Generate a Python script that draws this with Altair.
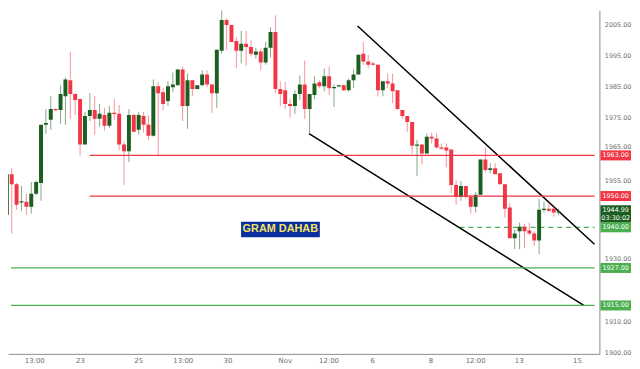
import altair as alt
import pandas as pd

# ---- candle data (4h candles) ----
opens = [1944.0, 1957.0, 1953.8, 1948.0, 1948.2, 1946.6, 1950.7, 1954.2, 1972.8, 1974.4,
         1977.8, 1977.5, 1981.9, 1987.0, 1982.6, 1981.0, 1966.5, 1975.6, 1977.5, 1974.7,
         1975.9, 1972.5, 1976.6, 1976.3, 1966.5, 1964.3, 1975.9, 1971.2, 1975.6, 1972.8,
         1969.3, 1985.1, 1983.2, 1980.4, 1984.8, 1985.4, 1990.5, 1978.8, 1987.0, 1984.2,
         1985.4, 1988.9, 1985.7, 1982.9, 1996.5, 2006.3, 2004.7, 1999.6, 1996.5, 1998.7,
         1997.7, 1995.2, 1996.2, 1992.7, 1997.4, 2002.5, 1984.2, 1983.8, 1979.4, 1978.8,
         1982.6, 1985.7, 1977.8, 1982.3, 1986.4, 1985.1, 1988.3, 1984.5, 1985.1, 1985.4,
         1983.8, 1987.0, 1988.9, 1995.5, 1993.0, 1992.4, 1992.0, 1983.8, 1986.7, 1986.0,
         1983.8, 1977.5, 1975.6, 1973.7, 1966.1, 1966.5, 1963.6, 1969.0, 1968.4, 1965.5,
         1965.5, 1964.9, 1953.5, 1949.7, 1953.2, 1949.7, 1946.6, 1950.4, 1961.7, 1958.3,
         1958.9, 1957.3, 1953.8, 1946.3, 1936.5, 1938.7, 1940.2, 1939.0, 1938.0, 1935.8,
         1945.6, 1945.9, 1945.9, 1944.7]
highs = [1962.4, 1958.9, 1954.2, 1953.2, 1950.7, 1954.5, 1955.0, 1972.8, 1977.8, 1981.9,
         1978.0, 1985.4, 1987.9, 1996.0, 1982.9, 1981.0, 1976.9, 1982.9, 1981.9, 1979.4,
         1978.2, 1978.8, 1981.0, 1979.1, 1967.4, 1977.8, 1976.3, 1976.9, 1976.9, 1975.9,
         1987.3, 1986.4, 1984.5, 1986.7, 1989.5, 1990.5, 1991.4, 1989.2, 1987.0, 1985.4,
         1990.2, 1990.2, 1985.7, 1996.8, 2009.4, 2006.9, 2004.7, 2000.9, 2002.8, 2002.8,
         1999.9, 1997.4, 1997.1, 1999.3, 2004.0, 2007.8, 1986.7, 1986.4, 1981.0, 1983.8,
         1988.6, 1993.3, 1982.6, 1988.3, 1987.0, 1990.8, 1991.4, 1985.7, 1985.4, 1985.7,
         1987.6, 1990.5, 1995.2, 1999.3, 1995.2, 1993.0, 1992.0, 1986.7, 1989.2, 1989.2,
         1983.8, 1977.5, 1975.6, 1973.7, 1968.0, 1966.5, 1970.0, 1970.3, 1970.0, 1966.8,
         1966.8, 1964.9, 1955.1, 1954.8, 1953.2, 1950.7, 1951.3, 1961.7, 1965.5, 1960.5,
         1960.5, 1957.3, 1953.8, 1947.8, 1939.3, 1941.5, 1941.2, 1941.5, 1938.7, 1949.1,
         1948.2, 1948.2, 1946.9, 1946.0]
lows = [1941.8, 1938.0, 1945.6, 1945.3, 1944.0, 1944.4, 1950.3, 1948.5, 1969.9, 1971.2,
        1977.3, 1973.1, 1972.8, 1974.7, 1975.9, 1963.0, 1966.5, 1974.0, 1969.6, 1972.2,
        1970.9, 1971.8, 1974.4, 1964.6, 1953.5, 1960.8, 1970.3, 1969.6, 1970.3, 1968.0,
        1969.0, 1963.0, 1977.5, 1978.8, 1983.2, 1985.4, 1974.0, 1971.5, 1981.9, 1984.2,
        1985.4, 1984.8, 1976.6, 1978.2, 1995.5, 1996.8, 1999.3, 1990.8, 1992.4, 1991.7,
        1994.6, 1993.9, 1990.2, 1992.0, 1994.3, 1982.9, 1978.8, 1977.8, 1975.0, 1976.3,
        1980.7, 1974.7, 1969.9, 1981.0, 1984.5, 1983.5, 1982.3, 1978.5, 1984.8, 1983.5,
        1983.5, 1984.5, 1988.9, 1992.0, 1990.8, 1991.7, 1981.9, 1981.9, 1984.5, 1979.7,
        1977.5, 1974.7, 1970.6, 1963.6, 1956.4, 1960.1, 1963.6, 1966.8, 1965.2, 1964.9,
        1959.2, 1951.0, 1947.2, 1948.5, 1949.1, 1944.4, 1944.7, 1950.4, 1957.6, 1957.3,
        1957.0, 1953.8, 1943.1, 1936.5, 1933.0, 1933.0, 1933.3, 1937.4, 1934.0, 1931.4,
        1944.7, 1945.0, 1943.4, 1943.8]
closes = [1957.0, 1953.8, 1947.2, 1948.2, 1946.6, 1950.7, 1954.5, 1972.8, 1973.4, 1977.8,
          1977.5, 1982.6, 1987.3, 1982.6, 1980.7, 1966.5, 1975.6, 1977.5, 1974.7, 1976.3,
          1972.5, 1976.6, 1976.3, 1966.5, 1964.3, 1975.9, 1970.6, 1975.9, 1972.8, 1969.3,
          1985.1, 1982.9, 1979.4, 1985.1, 1985.7, 1990.5, 1978.8, 1987.0, 1984.2, 1985.4,
          1988.9, 1985.7, 1982.9, 1996.8, 2006.3, 2004.7, 1999.3, 1996.5, 1998.7, 1997.7,
          1995.5, 1996.2, 1992.7, 1997.4, 2002.5, 1984.2, 1982.6, 1979.4, 1978.8, 1982.6,
          1985.7, 1977.8, 1982.6, 1986.0, 1985.1, 1988.3, 1984.5, 1984.8, 1985.4, 1983.8,
          1987.0, 1988.9, 1995.2, 1993.0, 1992.0, 1992.0, 1983.8, 1986.7, 1986.0, 1983.5,
          1977.8, 1975.6, 1973.7, 1966.1, 1966.5, 1963.6, 1969.0, 1968.4, 1965.5, 1965.2,
          1964.6, 1953.5, 1949.7, 1953.2, 1949.7, 1946.6, 1950.4, 1961.7, 1958.3, 1958.9,
          1957.0, 1953.8, 1945.9, 1936.5, 1938.0, 1940.2, 1938.7, 1938.0, 1935.8, 1945.6,
          1945.9, 1945.3, 1944.7, 1944.99]

# ---- axis labels ----
time_ticks = [5.63, 14.97, 26.9, 36.04, 45.19, 56.92, 65.87, 74.81, 86.74, 95.89, 104.83, 116.76]
time_labels = ["13:00", "23", "25", "13:00", "30", "Nov", "12:00", "6", "8", "12:00", "13", "15"]
price_ticks = [1900, 1905, 1910, 1920, 1930, 1935, 1955, 1960, 1965, 1970, 1975,
               1980, 1985, 1990, 1995, 2000, 2005]

# ---- horizontal levels ----
level_values = [1963.0, 1950.0, 1927.0, 1915.0]
level_start = [16.96, 16.96, 0.85, 0.85]
level_kind = ["res", "res", "sup", "sup"]
dash_level = 1940.0
dash_start = 92.7

# ---- trend lines ----
trend_x1 = [71.83, 61.89]
trend_y1 = [2004.36, 1969.94]
trend_x2 = [120.34, 118.15]
trend_y2 = [1934.57, 1915.0]

# ---- price tags on the right axis ----
tag_text = ["1963.00", "1950.00", "", "1940.00", "1927.00", "1915.00"]
tag_lo = [1961.4, 1948.4, 1941.5, 1938.4, 1925.4, 1913.4]
tag_hi = [1964.6, 1951.6, 1947.05, 1941.5, 1928.6, 1916.6]
tag_kind = ["res", "res", "last", "sup", "sup", "sup"]
last_text = ["1944.99", "03:30:02"]
last_text_y = [1945.6, 1942.9]

title_text = "GRAM DAHAB"
title_box = [47.97, 64.1, 1941.8, 1936.8]
title_pos = [56.0, 1939.3]

GREEN = "#1b5e20"
RED = "#f23645"
LGREEN = "#4caf50"
KIND_COLOR = {"res": RED, "sup": LGREEN, "last": GREEN}

XMIN, XMAX = 1.25, 120.34
YMIN, YMAX = 1899.52, 2009.41

n = len(opens)
rows = []
for i in range(n):
    o, h, l, c = opens[i], highs[i], lows[i], closes[i]
    top, bot = max(o, c), min(o, c)
    if top - bot < 0.4:
        m = (top + bot) / 2
        top, bot = m + 0.2, m - 0.2
    rows.append({"k": i, "high": h, "low": l, "top": top, "bot": bot,
                 "clr": GREEN if c >= o else RED})
cdf = pd.DataFrame(rows)

xs = alt.Scale(domain=[XMIN, XMAX], nice=False, zero=False)
ys = alt.Scale(domain=[YMIN, YMAX], nice=False, zero=False)

# label expression for time axis
mids = [(time_ticks[i] + time_ticks[i + 1]) / 2 for i in range(len(time_ticks) - 1)]
expr = ""
for m, lab in zip(mids, time_labels[:-1]):
    expr += f"datum.value < {m} ? '{lab}' : "
expr += f"'{time_labels[-1]}'"

x_axis = alt.Axis(values=time_ticks, labelExpr=expr, ticks=False, grid=False, title=None,
                  domainColor="#8c8c8c", labelColor="#6d6d6d", labelFontSize=7,
                  labelPadding=3, labelFont="DejaVu Sans")
y_axis = alt.Axis(orient="right", values=price_ticks, format=".2f", ticks=False, grid=False,
                  title=None, domainColor="#8c8c8c", labelColor="#6d6d6d", labelFontSize=6.5,
                  labelPadding=5, labelFont="DejaVu Sans",
                  labelBaseline={"condition": {"test": "datum.value == 1965", "value": "bottom"},
                                 "value": "middle"})

base = alt.Chart(cdf)
wicks = base.mark_rule(strokeWidth=1, opacity=0.55, clip=True).encode(
    x=alt.X("k:Q", scale=xs, axis=x_axis),
    y=alt.Y("low:Q", scale=ys, axis=y_axis),
    y2="high:Q",
    color=alt.Color("clr:N", scale=None),
)
bodies = base.mark_bar(size=4, clip=True).encode(
    x="k:Q", y="bot:Q", y2="top:Q",
    color=alt.Color("clr:N", scale=None),
)

ldf = pd.DataFrame({"level": level_values, "start": level_start, "end": [XMAX] * 4,
                    "clr": [KIND_COLOR[k] for k in level_kind]})
levels = alt.Chart(ldf).mark_rule(strokeWidth=1.3, clip=True).encode(
    x="start:Q", x2="end:Q", y="level:Q",
    stroke=alt.Stroke("clr:N", scale=None),
)
ddf = pd.DataFrame({"level": [dash_level], "start": [dash_start], "end": [XMAX]})
dashed = alt.Chart(ddf).mark_rule(strokeWidth=1.2, strokeDash=[5, 4], color=LGREEN,
                                   clip=True).encode(
    x="start:Q", x2="end:Q", y="level:Q")

tdf = pd.DataFrame({"x1": trend_x1, "y1": trend_y1, "x2": trend_x2, "y2": trend_y2})
trends = alt.Chart(tdf).mark_rule(strokeWidth=1.5, color="#000000", clip=True).encode(
    x="x1:Q", x2="x2:Q", y="y1:Q", y2="y2:Q")

bdf = pd.DataFrame({"x1": [title_box[0]], "x2": [title_box[1]],
                    "y1": [title_box[2]], "y2": [title_box[3]],
                    "tx": [title_pos[0]], "ty": [title_pos[1]], "t": [title_text]})
tbox = alt.Chart(bdf).mark_rect(color="#0b2e9f").encode(
    x="x1:Q", x2="x2:Q", y="y1:Q", y2="y2:Q")
ttext = alt.Chart(bdf).mark_text(color="#f5e35b", fontSize=11, fontWeight="bold",
                                  font="Liberation Sans", baseline="middle").encode(
    x="tx:Q", y="ty:Q", text="t:N")

gdf = pd.DataFrame({"lo": tag_lo, "hi": tag_hi, "t": tag_text,
                    "clr": [KIND_COLOR[k] for k in tag_kind],
                    "mid": [(a + b) / 2 for a, b in zip(tag_lo, tag_hi)]})
tags = alt.Chart(gdf).mark_rect().encode(
    x=alt.value(600), x2=alt.value(631), y="lo:Q", y2="hi:Q",
    color=alt.Color("clr:N", scale=None))
tagtext = alt.Chart(gdf).mark_text(color="white", fontSize=6.5, font="DejaVu Sans",
                                    baseline="middle").encode(
    x=alt.value(615.5), y=alt.Y("mid:Q"), text="t:N")
lastdf = pd.DataFrame({"t": last_text, "y": last_text_y})
lasttext = alt.Chart(lastdf).mark_text(color="white", fontSize=6.5, font="DejaVu Sans",
                                        baseline="middle").encode(
    x=alt.value(615.5), y="y:Q", text="t:N")

chart = alt.layer(dashed, trends, wicks, bodies, levels, tbox, ttext, tags, tagtext,
                  lasttext).properties(
    width=599, height=348,
    autosize=alt.AutoSizeParams(type="none"),
    padding={"left": 0, "top": 0, "right": 33, "bottom": 13},
    background="white",
).configure_view(stroke=None)

chart.save("out.html", embed_options={"renderer": "svg", "actions": False})
